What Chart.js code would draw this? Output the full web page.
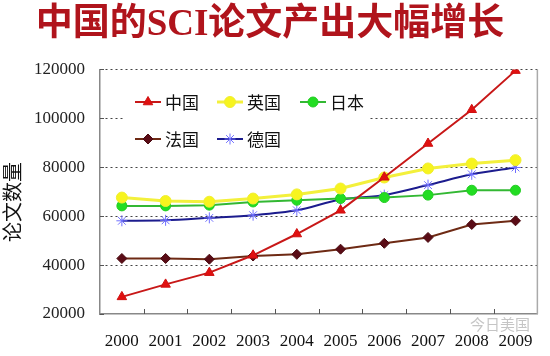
<!DOCTYPE html>
<html>
<head>
<meta charset="utf-8">
<script src="https://cdn.jsdelivr.net/npm/chart.js@4/dist/chart.umd.min.js"></script>
<style>
html,body{margin:0;padding:0;background:#fff;}
#wrap{width:550px;height:356px;position:relative;}
</style>
</head>
<body>
<div id="wrap"><canvas id="c" width="550" height="356"></canvas></div>
<script>
const years = ['2000','2001','2002','2003','2004','2005','2006','2007','2008','2009'];
const china   = [27000, 32100, 36900, 44000, 52700, 62400, 75900, 89700, 103500, 119500];
const uk      = [67600, 66200, 65900, 67200, 68900, 71300, 75800, 79500, 81500, 82900];
const japan   = [64200, 64200, 64500, 65800, 66500, 67200, 67600, 68600, 70600, 70600];
const france  = [42700, 42700, 42400, 43700, 44400, 46500, 48900, 51300, 56600, 58100];
const germany = [58100, 58300, 59300, 60400, 62400, 66800, 68600, 72700, 77100, 79900];
const seriesNames = ['中国','英国','日本','法国','德国'];
const titleText = '中国的SCI论文产出大幅增长';
const yTitle = '论文数量';
const watermark = '今日美国';

const SERIF = '"Liberation Serif", "Noto Sans CJK SC", serif';

const datasets = [
  {label: seriesNames[0], data: china, borderColor:'#c81818', backgroundColor:'#e01010',
   pointStyle:'triangle', pointRadius:5.5, pointBorderColor:'#d01010', pointBorderWidth:1, borderWidth:2, tension:0},
  {label: seriesNames[1], data: uk, borderColor:'#f3f03c', backgroundColor:'#f7f41e',
   pointStyle:'circle', pointRadius:5.5, pointBorderColor:'#f0ee30', pointBorderWidth:1, borderWidth:3, tension:0},
  {label: seriesNames[2], data: japan, borderColor:'#33b833', backgroundColor:'#22dd22',
   pointStyle:'circle', pointRadius:5, pointBorderColor:'#22cc22', pointBorderWidth:1, borderWidth:2, tension:0},
  {label: seriesNames[3], data: france, borderColor:'#6e2a14', backgroundColor:'#5a0c16',
   pointStyle:'rectRot', pointRadius:5, pointBorderColor:'#4a0a10', pointBorderWidth:1, borderWidth:2, tension:0},
  {label: seriesNames[4], data: germany, borderColor:'#1c1c8e', backgroundColor:'#7777ff',
   pointStyle:'star', pointRadius:5.5, pointBorderColor:'#7070ff', pointBorderWidth:1, borderWidth:2, tension:0.3}
];

const decor = {
  id:'decor',
  beforeDatasetsDraw(chart){
    const ctx = chart.ctx, a = chart.chartArea;
    const xs = chart.scales.x, ys = chart.scales.y;
    ctx.save();
    ctx.strokeStyle = '#aaaaaa'; ctx.lineWidth = 1.5;
    ctx.beginPath(); ctx.moveTo(a.right, a.top); ctx.lineTo(a.right, a.bottom); ctx.stroke();
    ctx.strokeStyle = '#555'; ctx.lineWidth = 1;
    for (let i = 1; i < years.length; i++) {
      const x = Math.round((xs.getPixelForValue(i-1) + xs.getPixelForValue(i)) / 2) + 0.5;
      ctx.beginPath(); ctx.moveTo(x, a.bottom); ctx.lineTo(x, a.bottom - 5); ctx.stroke();
    }
    ys.ticks.forEach(t => {
      const y = Math.round(ys.getPixelForValue(t.value)) + 0.5;
      ctx.beginPath(); ctx.moveTo(a.left, y); ctx.lineTo(a.left + 4, y); ctx.stroke();
    });
    ctx.fillStyle = '#ffffff';
    ctx.fillRect(a.left + 25, a.top + 10, 245, 80);
    ctx.restore();
  },
  afterDraw(chart){
    const ctx = chart.ctx;
    ctx.save();
    const pos = [[135,102],[217,102],[300,102],[135,139],[217,139]];
    chart.data.datasets.forEach((ds, i) => {
      const [x, y] = pos[i];
      ctx.strokeStyle = ds.borderColor; ctx.lineWidth = ds.borderWidth;
      ctx.beginPath(); ctx.moveTo(x, y); ctx.lineTo(x + 26, y); ctx.stroke();
      ctx.fillStyle = ds.backgroundColor; ctx.strokeStyle = ds.pointBorderColor; ctx.lineWidth = 1;
      Chart.helpers.drawPoint(ctx, {pointStyle: ds.pointStyle, radius: ds.pointRadius, rotation: 0, borderWidth: 1}, x + 13, y);
      ctx.fillStyle = '#111';
      ctx.font = '17px "Noto Sans CJK SC", sans-serif';
      ctx.textBaseline = 'middle'; ctx.textAlign = 'left';
      ctx.fillText(ds.label, x + 30, y + 1);
    });
    ctx.save();
    ctx.translate(12, 202);
    ctx.rotate(-Math.PI/2);
    ctx.fillStyle = '#111';
    ctx.font = '20px "Noto Sans CJK SC", sans-serif';
    ctx.textAlign = 'center'; ctx.textBaseline = 'middle';
    ctx.fillText(yTitle, 0, 0);
    ctx.restore();
    ctx.fillStyle = 'rgba(150,150,150,0.55)';
    ctx.font = '15px "Noto Sans CJK SC", sans-serif';
    ctx.textAlign = 'left'; ctx.textBaseline = 'middle';
    ctx.fillText(watermark, 470, 324);
    ctx.restore();
  }
};

new Chart(document.getElementById('c'), {
  type:'line',
  data:{labels: years, datasets},
  options:{
    responsive:false,
    animation:false,
    devicePixelRatio:1,
    layout:{padding:{left:0,right:10,top:0,bottom:0}},
    plugins:{
      legend:{display:false},
      tooltip:{enabled:false},
      title:{display:true, text:titleText, color:'#b0141c',
        font:{family:SERIF, size:37, weight:'bold', lineHeight:1.2},
        padding:{top:3,bottom:22}}
    },
    scales:{
      x:{
        offset:true,
        grid:{display:false, drawTicks:false},
        border:{display:true, color:'#888', width:1.5},
        ticks:{color:'#111', font:{family:SERIF, size:17}, padding:17, maxRotation:0, autoSkip:false},
        afterFit(s){ s.height = 42; }
      },
      y:{
        min:20000, max:120000,
        ticks:{stepSize:20000, color:'#222', font:{family:SERIF, size:17}, padding:15,
          callback:(v)=> String(v)},
        grid:{drawTicks:false, color:(c)=> c.tick && c.tick.value===20000 ? 'rgba(0,0,0,0)' : '#444', lineWidth:1},
        border:{display:true, color:'#888', width:1.5, dash:[2,3]},
        afterFit(s){ s.width = 100; }
      }
    }
  },
  plugins:[decor]
});
</script>
</body>
</html>
